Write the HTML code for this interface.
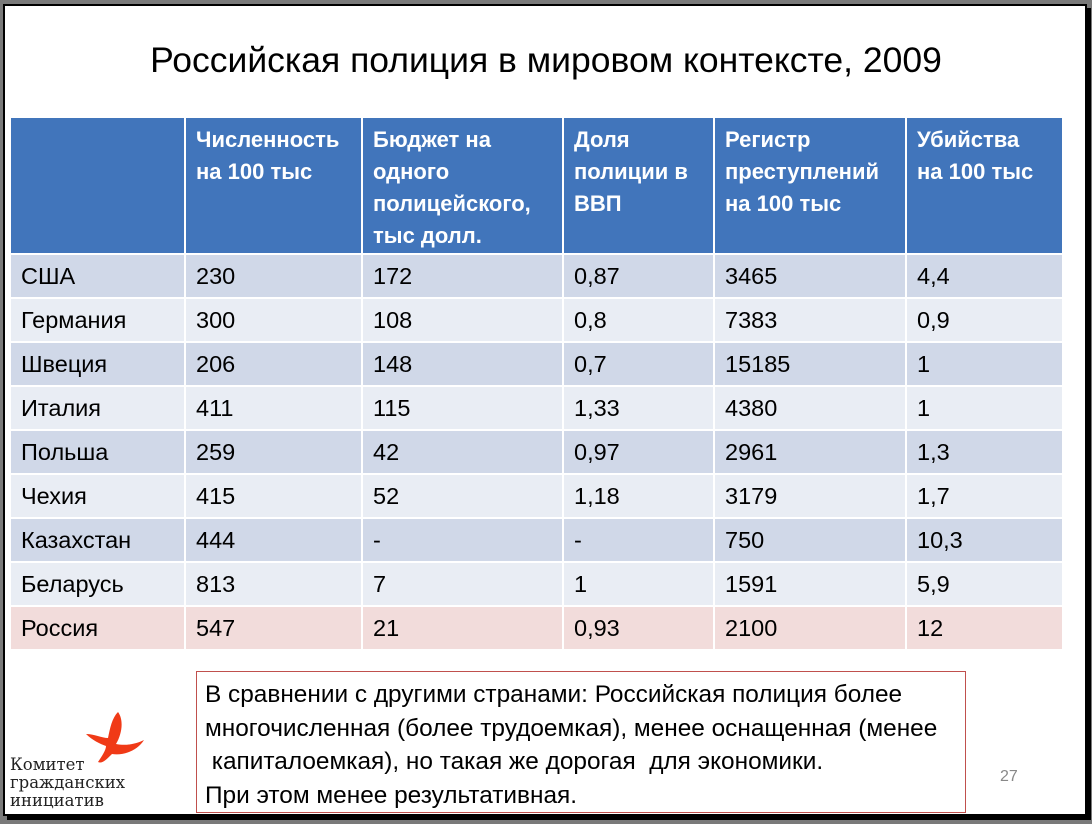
<!DOCTYPE html>
<html><head><meta charset="utf-8">
<style>
body{margin:0;width:1092px;height:824px;background:#7a7a7a;position:relative;overflow:hidden;font-family:"Liberation Sans","DejaVu Sans",sans-serif}
#slide{position:absolute;left:3px;top:4px;width:1080px;height:808px;background:#fff;border:2px solid #000;box-shadow:4px 4px 0 #000}
h1{position:absolute;left:0;width:1092px;top:40px;margin:0;text-align:center;font-weight:normal;font-size:35.5px;color:#000}
table{position:absolute;left:9px;top:116px;border-collapse:collapse;font-size:23.5px;table-layout:fixed}
td,th{border:2px solid #fff;padding:0 0 0 10px;text-align:left;vertical-align:middle;height:42px;white-space:nowrap}
th{background:#4175bb;color:#fff;font-weight:bold;vertical-align:top;padding-top:6px;height:129px;line-height:32px;font-size:22px;white-space:normal}
tr.o td{background:#d0d8e8}
tr.e td{background:#e9edf4}
tr.r td{background:#f2dcdb}
#note{position:absolute;left:196px;top:671px;width:770px;height:142px;border:1.5px solid #c0504d;box-sizing:border-box;padding:6px 8px;font-size:24.4px;line-height:33.5px;white-space:nowrap}
#pg{position:absolute;left:1000px;top:768px;font-size:16px;color:#888}
#logo{position:absolute;left:10px;top:756px;font-family:"DejaVu Serif",serif;font-size:16.5px;line-height:18px;color:#222}
</style></head><body>
<div id="slide"></div>
<h1>Российская полиция в мировом контексте, 2009</h1>
<table>
<tr><th style="width:163px"></th><th style="width:165px">Численность на 100 тыс</th><th style="width:189px">Бюджет на одного полицейского, тыс долл.</th><th style="width:139px">Доля полиции в ВВП</th><th style="width:180px">Регистр преступлений на 100 тыс</th><th style="width:145px">Убийства<br>на 100 тыс</th></tr>
<tr class="o"><td>США</td><td>230</td><td>172</td><td>0,87</td><td>3465</td><td>4,4</td></tr>
<tr class="e"><td>Германия</td><td>300</td><td>108</td><td>0,8</td><td>7383</td><td>0,9</td></tr>
<tr class="o"><td>Швеция</td><td>206</td><td>148</td><td>0,7</td><td>15185</td><td>1</td></tr>
<tr class="e"><td>Италия</td><td>411</td><td>115</td><td>1,33</td><td>4380</td><td>1</td></tr>
<tr class="o"><td>Польша</td><td>259</td><td>42</td><td>0,97</td><td>2961</td><td>1,3</td></tr>
<tr class="e"><td>Чехия</td><td>415</td><td>52</td><td>1,18</td><td>3179</td><td>1,7</td></tr>
<tr class="o"><td>Казахстан</td><td>444</td><td>-</td><td>-</td><td>750</td><td>10,3</td></tr>
<tr class="e"><td>Беларусь</td><td>813</td><td>7</td><td>1</td><td>1591</td><td>5,9</td></tr>
<tr class="r"><td>Россия</td><td>547</td><td>21</td><td>0,93</td><td>2100</td><td>12</td></tr>
</table>
<div id="note">В сравнении с другими странами: Российская полиция более<br>многочисленная (более трудоемкая), менее оснащенная (менее<br>&nbsp;капиталоемкая), но такая же дорогая &nbsp;для экономики.<br>При этом менее результативная.</div>
<div id="pg">27</div>
<svg style="position:absolute;left:80px;top:710px" width="70" height="60"><path d="M38 2 C44 10 42 24 36 34 C46 36 56 34 64 30 C58 40 44 46 32 44 C26 50 22 54 18 52 C22 46 26 40 26 36 C20 34 12 30 6 24 C14 24 22 28 28 28 C30 18 32 8 38 2Z" fill="#f03a17"/></svg>
<div id="logo">Комитет<br>гражданских<br>инициатив</div>
</body></html>
